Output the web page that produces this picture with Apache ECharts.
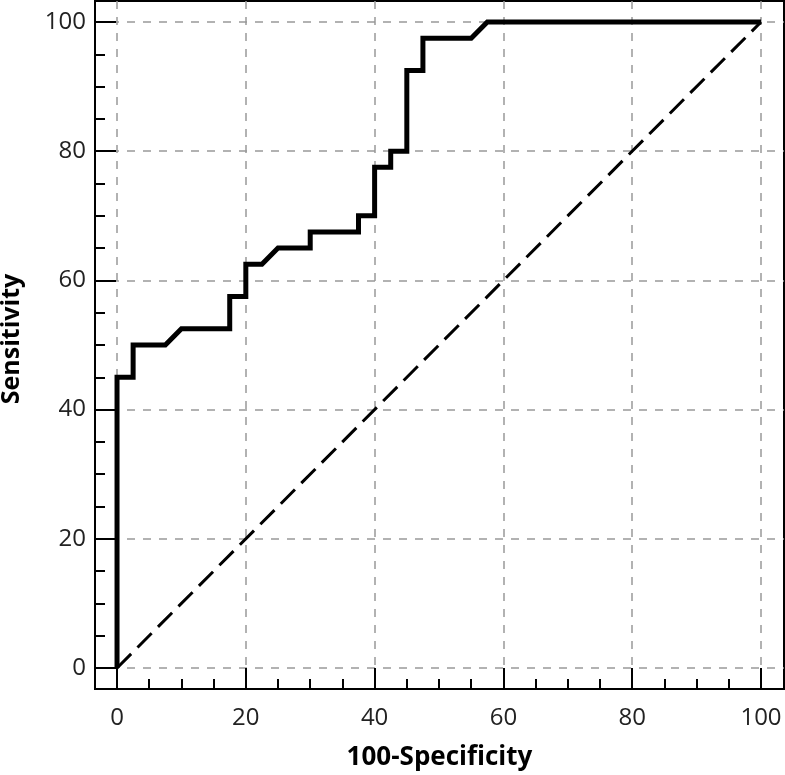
<!DOCTYPE html>
<html>
<head>
    <meta charset="utf-8">
    <title>roc</title>
    <script src="https://cdn.jsdelivr.net/npm/echarts@6/dist/echarts.min.js"></script>
    <style>
        html, body { margin: 0; padding: 0; background: #fff; }
    </style>
</head>
<body>
    <div id="roc" style="width: 785px;height:775px;"></div>
    <script type="text/javascript">
        // ROC curve vertices
        var specComp = [0, 0, 2.5, 2.5, 7.5, 10, 17.5, 17.5, 20, 20, 22.5, 25, 30, 30, 37.5, 37.5, 40, 40, 42.5, 42.5, 45, 45, 47.5, 47.5, 55, 57.5, 100];
        var sensitivity = [0, 45, 45, 50, 50, 52.5, 52.5, 57.5, 57.5, 62.5, 62.5, 65, 65, 67.5, 67.5, 70, 70, 77.5, 77.5, 80, 80, 92.5, 92.5, 97.5, 97.5, 100, 100];
        var chanceX = [0, 100];
        var chanceY = [0, 100];
        var majorTicks = [0, 20, 40, 60, 80, 100];
        var minorTicks = [5, 10, 15, 25, 30, 35, 45, 50, 55, 65, 70, 75, 85, 90, 95];

        var font = '"Open Sans", "Noto Sans", sans-serif';

        var roc = specComp.map(function (x, i) { return [x, sensitivity[i]]; });
        var chance = chanceX.map(function (x, i) { return [x, chanceY[i]]; });

        function mainAxis(min, max, pos, extra) {
            var a = {
                type: 'value',
                position: pos,
                min: min,
                max: max,
                axisLine: { onZero: false, lineStyle: { color: '#000', width: 2 } },
                axisTick: { inside: true, length: 21, customValues: majorTicks, lineStyle: { color: '#000', width: 2 } },
                splitLine: { show: true, lineStyle: { color: '#999', width: 1.5, type: [8, 8] } },
                nameLocation: 'middle'
            };
            for (var k in extra) a[k] = extra[k];
            return a;
        }

        function minorAxis(min, max, pos) {
            return {
                type: 'value',
                position: pos,
                min: min,
                max: max,
                axisLine: { show: false, onZero: false },
                axisTick: { inside: true, length: 10, customValues: minorTicks, lineStyle: { color: '#000', width: 2 } },
                axisLabel: { show: false },
                splitLine: { show: false }
            };
        }

        var xMin = -3.42, xMax = 103.57, yMin = -3.25, yMax = 103.25;

        var myChart = echarts.init(document.getElementById('roc'));
        var option = {
            animation: false,
            grid: {
                left: 95, right: 1, top: 1, bottom: 86,
                show: true, borderColor: '#000', borderWidth: 2,
                outerBoundsMode: 'none'
            },
            xAxis: [
                mainAxis(xMin, xMax, 'bottom', {
                    name: '100-Specificity', nameGap: 56,
                    nameTextStyle: { color: '#000', fontSize: 26, fontWeight: 'bold', fontFamily: font },
                    axisLabel: { customValues: majorTicks, color: '#222', fontSize: 24, fontFamily: font, margin: 17 }
                }),
                minorAxis(xMin, xMax, 'bottom')
            ],
            yAxis: [
                mainAxis(yMin, yMax, 'left', {
                    name: 'Sensitivity', nameGap: 71,
                    nameTextStyle: { color: '#000', fontSize: 25, fontWeight: 'bold', fontFamily: font, padding: [0, 0, 0, 12] },
                    axisLabel: { customValues: majorTicks, color: '#222', fontSize: 24, fontFamily: font, margin: 9 }
                }),
                minorAxis(yMin, yMax, 'left')
            ],
            series: [{
                name: 'chance',
                type: 'line',
                data: chance,
                showSymbol: false,
                lineStyle: { color: '#000', width: 3, type: [20, 9] }
            }, {
                name: 'roc',
                type: 'line',
                data: roc,
                showSymbol: false,
                lineStyle: { color: '#000', width: 5, join: 'miter' }
            }]
        };
        myChart.setOption(option);
    </script>
</body>
</html>
